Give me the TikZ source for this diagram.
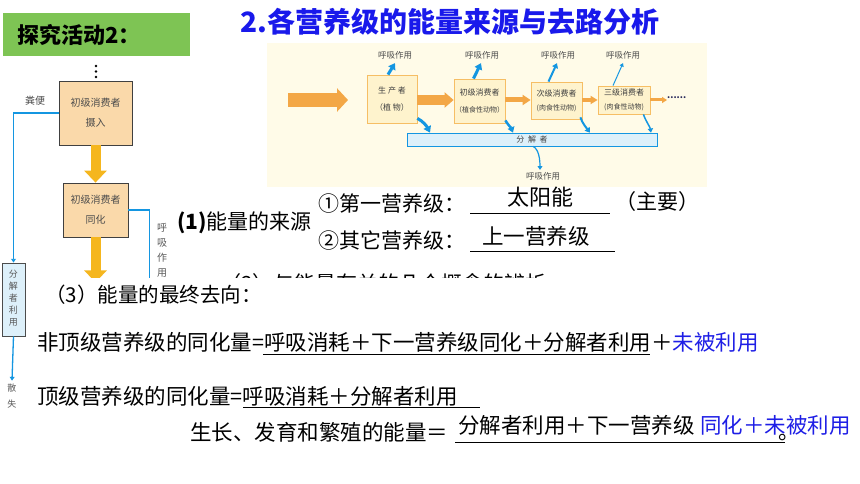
\documentclass[tikz,border=0pt]{standalone}
\usepackage{fontspec}
\setmainfont{Noto Sans CJK SC}
\usetikzlibrary{arrows.meta,positioning}
\definecolor{tagGreen}{RGB}{126,196,84}
\definecolor{headBlue}{RGB}{25,25,235}
\definecolor{ansBlue}{RGB}{30,30,230}
\definecolor{peach}{RGB}{250,217,170}
\definecolor{flowBg}{RGB}{255,251,232}
\definecolor{flowFill}{RGB}{254,243,205}
\definecolor{flowEdge}{RGB}{246,190,100}
\definecolor{flowOrange}{RGB}{243,167,70}
\definecolor{amber}{RGB}{245,182,30}
\definecolor{sky}{RGB}{20,150,225}
\definecolor{decFill}{RGB}{221,240,250}
\definecolor{dotNavy}{RGB}{40,40,90}
\tikzset{
  peachbox/.style={draw=black!75, fill=peach, line width=0.8pt, align=center,
    font=\fontsize{10}{20}\selectfont, text=black!70},
  flowbox/.style={draw=flowEdge, fill=flowFill, line width=0.8pt, align=center,
    font=\fontsize{8}{17}\selectfont, text=black!75},
  smalltxt/.style={font=\fontsize{8.5}{8.5}\selectfont, text=black!70},
  vtxt/.style={font=\fontsize{10}{15}\selectfont, text=black!65, align=center},
  skyarr/.style={draw=sky, -{Triangle[length=2pt 1.4, width=2.5pt 1.8]}},
  orangearr/.style={draw=flowOrange},
  amberarr/.style={draw=amber, line width=10pt, -{Triangle[width=22pt,length=12pt]}},
  body/.style={font=\fontsize{21.5}{24}\selectfont, anchor=west},
  blank/.style={draw=black, line width=0.9pt}
}
\begin{document}
\begin{tikzpicture}[x=1pt,y=-1pt, every node/.style={inner sep=0pt}]
\useasboundingbox (0,0) rectangle (860,484);
\fill[white] (0,0) rectangle (860,484);
\node[fill=tagGreen, minimum width=187pt, minimum height=43pt] (tag) at (96.5,34.5) {};
\node[font=\fontsize{22}{22}\bfseries\selectfont, anchor=west] (tagtxt) at (17,35) {探究活动2：};
\node[font=\fontsize{28}{28}\bfseries\selectfont, text=headBlue, anchor=west] (head) at (240,22) {2.各营养级的能量来源与去路分析};
% energy flow through the food chain
\fill[flowBg] (267,43) rectangle (707,187);
\node[flowbox, minimum width=50pt, minimum height=48pt] (prod) at (392,99) {生\ 产\ 者\\（植\ 物）};
\node[flowbox, minimum width=51pt, minimum height=44pt] (herb) at (479.5,101) {初级消费者\\{\fontsize{7}{7}\selectfont（植食性动物）}};
\node[flowbox, minimum width=51pt, minimum height=37pt, font=\fontsize{8}{14}\selectfont] (carn) at (556.5,100.5) {次级消费者\\{\fontsize{7}{7}\selectfont(肉食性动物)}};
\node[flowbox, minimum width=52pt, minimum height=28pt, font=\fontsize{8}{14}\selectfont] (top3) at (624,100) {三级消费者\\{\fontsize{7}{7}\selectfont(肉食性动物)}};
\node[font=\fontsize{9}{9}\bfseries\selectfont, text=dotNavy, anchor=west] (more) at (667,98) {......};
\node[draw=sky, fill=decFill, line width=0.7pt, minimum width=250pt, minimum height=13pt,
  font=\fontsize{8}{8}\selectfont, text=black!75] (dec) at (532,139.5) {分\ \ 解\ \ 者};
\coordinate (sunA) at (288,100);
\coordinate (sunB) at (348,100);
\draw[orangearr, line width=14pt, -{Triangle[width=23pt,length=11pt]}] (sunA) -- (sunB);
\draw[orangearr, line width=10pt, -{Triangle[width=15pt,length=9pt]}] (prod.east |- 0,100) -- (herb.west |- 0,100);
\draw[orangearr, line width=5pt, -{Triangle[width=10pt,length=8pt]}] (herb.east |- 0,100) -- (carn.west |- 0,100);
\draw[orangearr, line width=4pt, -{Triangle[width=8pt,length=7pt]}] (carn.east |- 0,100) -- (top3.west |- 0,100);
\draw[orangearr, line width=3pt, -{Triangle[width=6pt,length=5pt]}] (top3.east |- 0,100) -- (more.west |- 0,100);
\foreach \lab/\xx in {r1/395, r2/482, r3/558, r4/623}
  \node[smalltxt] (\lab) at (\xx,55) {呼吸作用};
\draw[skyarr, line width=3pt] ([xshift=-4pt]prod.north) -- ([yshift=-4pt]r1.south);
\draw[skyarr, line width=3pt] ([xshift=-6pt]herb.north) -- ([yshift=-4pt,xshift=-1pt]r2.south);
\draw[skyarr, line width=2pt] ([xshift=-8pt]carn.north) -- ([yshift=-4pt,xshift=-1pt]r3.south);
\draw[skyarr, line width=1pt] ([xshift=-11pt]top3.north) -- ([yshift=-4pt]r4.south);
\draw[skyarr, line width=3pt] ([yshift=5pt]prod.south east) .. controls +(6,3) and +(-3,-6) .. (dec.north -| 430,0);
\draw[skyarr, line width=2.5pt] ([yshift=3pt]herb.south east) .. controls +(3,5) and +(-2,-5) .. (dec.north -| 513,0);
\draw[skyarr, line width=2pt] ([xshift=-2pt,yshift=2pt]carn.south east) .. controls +(2,6) and +(-3,-4) .. (dec.north -| 590,0);
\draw[skyarr, line width=1.5pt] ([xshift=-7pt]top3.south east) .. controls +(3,8) and +(-1,-6) .. (dec.north -| 651,0);
\node[smalltxt] (r5) at (543,176) {呼吸作用};
\draw[skyarr, line width=1.2pt] (dec.south -| 533,0) .. controls +(6,3) and +(0,-10) .. ([yshift=2pt,xshift=-3pt]r5.north);
% primary consumer budget
\foreach \yy in {66,71.5,77} \fill (96,\yy) circle (1.4pt);
\node[peachbox, minimum width=73pt, minimum height=64pt] (intake) at (95.5,113) {初级消费者\\摄入};
\node[peachbox, minimum width=65pt, minimum height=54pt] (assim) at (95.5,210) {初级消费者\\同化};
\node[draw=black!70, fill=decFill, line width=0.8pt, minimum width=23pt, minimum height=73pt] (decomp) at (13.5,299.5) {};
\node[vtxt, font=\fontsize{9}{12}\selectfont] (decomptxt) at (13.5,298) {分\\解\\者\\利\\用};
\node[smalltxt, font=\fontsize{10}{10}\selectfont] (feces) at (35,101) {粪便};
\node[vtxt] (resp) at (162,250) {呼\\吸\\作\\用};
\node[vtxt, font=\fontsize{9}{16}\selectfont] (loss) at (12,396) {散\\失};
\draw[amberarr] (intake.south) -- (assim.north);
\draw[amberarr] (assim.south) -- ++(0,45) coordinate (assimEnd);
\draw[skyarr, line width=1.3pt] (intake.west) -| (decomp.north);
\draw[sky, line width=1.3pt] (assim.east) -| ++(21,80) coordinate (respEnd);
\draw[skyarr, line width=1.3pt] (decomp.south) -- ([yshift=3pt]loss.north);
% sources of energy
\node[body, font=\fontsize{21}{24}\selectfont] (src) at (177,223) {\textbf{(1)}能量的来源};
\node[body, font=\fontsize{21}{24}\selectfont] (first) at (318,203) {①第一营养级：};
\node[body, font=\fontsize{21}{24}\selectfont] (other) at (318,240) {②其它营养级：};
\node[body, font=\fontsize{21}{24}\selectfont] (main) at (615,202) {（主要）};
\node[font=\fontsize{22}{24}\selectfont] (sun) at (540,197) {太阳能};
\node[font=\fontsize{21.5}{24}\selectfont] (prev) at (536,236) {上一营养级};
\draw[blank] (470,213) coordinate (b1) -- (610,213);
\draw[blank] (470,251) coordinate (b2) -- (615,251);
\node[body, font=\fontsize{21}{24}\selectfont] (cut) at (220,284) {（2）与能量有关的几个概念的辨析};
\fill[white] (27,278) rectangle (860,484);
% where the energy ends up
\node[body, font=\fontsize{20.5}{24}\selectfont] (fate) at (45,295) {（3）能量的最终去向：};
\node[body] (nontop) at (37,342) {非顶级营养级的同化量=呼吸消耗＋下一营养级同化＋分解者利用＋\textcolor{ansBlue}{未被利用}};
\draw[blank] (263,354) coordinate (b3) -- (650,354);
\node[body] (topl) at (37,396) {顶级营养级的同化量=呼吸消耗＋分解者利用};
\draw[blank] (243,407) coordinate (b4) -- (480,407);
\node[body] (grow) at (190,432) {生长、发育和繁殖的能量＝};
\draw[blank] (455,442) coordinate (b5) -- (785,442);
\node[body] (growA) at (458,425) {分解者利用＋下一营养级};
\node[body, text=ansBlue] (growB) at (700,425) {同化＋未被利用};
\node[body] (stop) at (778,438) {。};
\end{tikzpicture}
\end{document}
